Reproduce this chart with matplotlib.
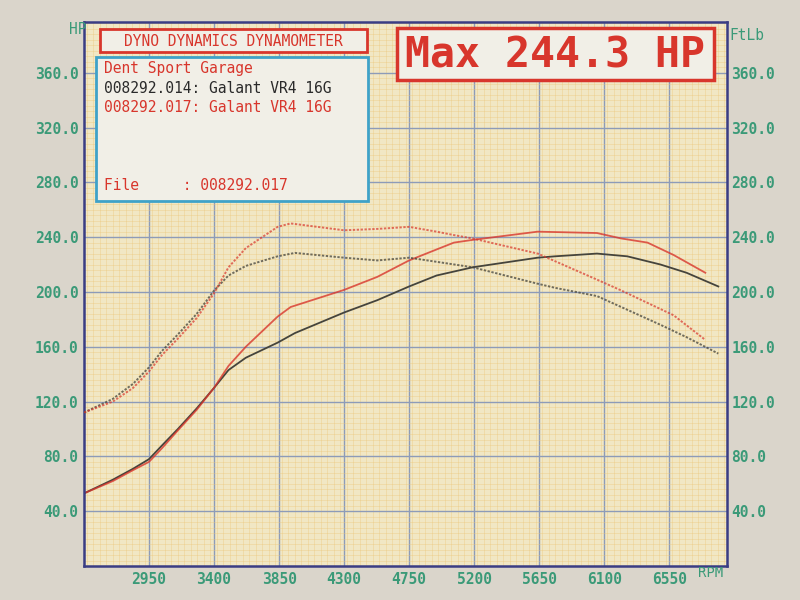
"""Dyno sheet: Galant VR4 16G, two runs (power + torque)."""
import matplotlib
matplotlib.use("Agg")
import matplotlib.pyplot as plt
from matplotlib.patches import Rectangle
from matplotlib.ticker import MultipleLocator

# --- data ---
rpm_014 = [2500, 2700, 2840, 2950, 3040, 3150, 3280, 3400, 3500, 3620, 3840, 3960,
           4300, 4530, 4750, 4940, 5190, 5640, 5760, 6050, 6260, 6490, 6670, 6890]
hp_014 = [53, 63, 71, 78, 88, 100, 115, 130, 143, 152, 163, 170,
          185, 194, 204, 212, 218, 225, 226, 228, 226, 220, 214, 204]
tq_014 = [112, 122, 133, 145, 157, 169, 184, 201, 212, 219, 226, 228.5,
          225, 223, 225, 222, 218, 206, 203, 197, 187, 176, 167, 155]

rpm_017 = [2500, 2700, 2840, 2950, 3040, 3150, 3280, 3400, 3500, 3620, 3840, 3930,
           4300, 4530, 4750, 4940, 5060, 5190, 5640, 6050, 6220, 6400, 6580, 6800]
hp_017 = [53, 62, 70, 76, 86, 99, 114, 130, 146, 160, 182, 189,
          201.5, 211, 223, 231, 236, 238, 244, 243, 239, 236, 227, 214]
tq_017 = [112, 120, 130, 142, 154, 166, 181, 199, 218, 232, 247.5, 250,
          245, 246, 247.5, 244, 241.5, 239, 228, 209, 201, 192, 183, 165]

y_ticks = [40, 80, 120, 160, 200, 240, 280, 320, 360]
x_ticks = [2950, 3400, 3850, 4300, 4750, 5200, 5650, 6100, 6550]

RED, DARK, GREEN = "#d8362c", "#45443c", "#3b9a78"
MONO = "DejaVu Sans Mono"

fig = plt.figure(figsize=(8, 6), dpi=100, facecolor="#dad5cb")
ax = fig.add_axes([84/800, 1-566/600, 643/800, 544/600], facecolor="#f1e7c4")
ax.set_xlim(2500, 6950); ax.set_ylim(0, 397)

ax.xaxis.set_minor_locator(MultipleLocator(45))
ax.yaxis.set_minor_locator(MultipleLocator(4))
ax.set_xticks(x_ticks); ax.set_yticks(y_ticks)
ax.grid(which="minor", color="#ecc678", lw=0.5, alpha=0.5)
ax.grid(which="major", color="#8d9bb8", lw=1.0)
ax.set_axisbelow(True)

ax.set_xticklabels([str(v) for v in x_ticks], family=MONO, fontsize=10.5,
                   color=GREEN, fontweight="bold")
ax.set_yticklabels([f"{v:.1f}" for v in y_ticks], family=MONO, fontsize=10.5,
                   color=GREEN, fontweight="bold")
ax.tick_params(which="both", length=0, pad=4)
for s in ax.spines.values():
    s.set_color("#3a3d84"); s.set_linewidth(1.8)

# torque on a matching right axis
ax2 = ax.twinx()
ax2.set_ylim(ax.get_ylim()); ax2.set_yticks(y_ticks)
ax2.set_yticklabels([f"{v:.1f}" for v in y_ticks], family=MONO, fontsize=10.5,
                    color=GREEN, fontweight="bold")
ax2.tick_params(length=0, pad=3)
for s in ax2.spines.values(): s.set_visible(False)

ax.plot(rpm_014, hp_014, color=DARK, lw=1.3)
ax.plot(rpm_017, hp_017, color=RED, lw=1.3, alpha=0.8)
ax2.plot(rpm_014, tq_014, color=DARK, lw=1.4, ls=(0, (1.2, 0.8)), alpha=0.75)
ax2.plot(rpm_017, tq_017, color=RED, lw=1.4, ls=(0, (1.2, 0.8)), alpha=0.7)

# --- header boxes (figure pixel coords) ---
def box(x0, y0, x1, y1, ec, lw):
    fig.add_artist(Rectangle((x0/800, 1-y1/600), (x1-x0)/800, (y1-y0)/600,
                             transform=fig.transFigure, fc="#f1efe7", ec=ec, lw=lw, zorder=5))

def txt(x, y, s, color, size=10.5, ha="left", weight="normal"):
    fig.text(x/800, 1-y/600, s, color=color, family=MONO, fontsize=size,
             ha=ha, va="center", fontweight=weight, zorder=6)

box(100, 29, 367, 52, RED, 2.0)
box(96, 57, 368, 201, "#3fa2c8", 2.0)
box(397, 28, 714, 80, RED, 2.5)

txt(233, 41, "DYNO DYNAMICS DYNAMOMETER", RED, ha="center")
txt(104, 68, "Dent Sport Garage", RED)
txt(104, 88, "008292.014: Galant VR4 16G", "#2a2a2a")
txt(104, 107, "008292.017: Galant VR4 16G", RED)
txt(104, 185, "File     : 008292.017", RED)
txt(555, 55, "Max 244.3 HP", RED, size=30, ha="center", weight="bold")

txt(86, 30, "HP", GREEN, ha="right")
txt(729, 35, "FtLb", GREEN)
txt(698, 573, "RPM", GREEN, size=10)

fig.savefig("out.png", dpi=100, facecolor=fig.get_facecolor())
